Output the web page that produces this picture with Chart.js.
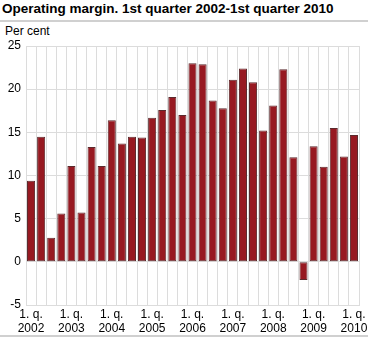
<!DOCTYPE html>
<html>
<head>
<meta charset="utf-8">
<script src="https://cdn.jsdelivr.net/npm/chart.js@4"></script>
<style>
    body { margin: 0; background: #fff; font-family: "Liberation Sans", Arial, sans-serif; }
    #wrap { position: relative; width: 370px; height: 338px; }
    #title { position: absolute; left: 2px; top: 1px; font-size: 13.5px; font-weight: bold; color: #000; white-space: nowrap; }
    #topLine { position: absolute; left: 0; top: 20px; width: 368px; height: 2px; background: #d0d0d0; }
    #unit { position: absolute; left: 5px; top: 24px; font-size: 12px; color: #000; }
    #bottomLine { position: absolute; left: 0; top: 335px; width: 368px; height: 2px; background: #d0d0d0; }
    canvas { position: absolute; left: 0; top: 0; }
</style>
</head>
<body>
<div id="wrap">
    <div id="title">Operating margin. 1st quarter 2002-1st quarter 2010</div>
    <div id="topLine"></div>
    <div id="unit">Per cent</div>
    <canvas id="chart" width="370" height="338"></canvas>
    <div id="bottomLine"></div>
</div>
<script>
// quarters 2002Q1 - 2010Q1
const years = ["2002", "2003", "2004", "2005", "2006", "2007", "2008", "2009", "2010"];
const quarters = [];
years.forEach(y => {
    for (let q = 1; q <= 4; q++) {
        if (y === "2010" && q > 1) break;
        quarters.push(q + ". q. " + y);
    }
});

const margin = [
    9.4, 14.5, 2.8, 5.6,
    11.1, 5.7, 13.3, 11.1,
    16.4, 13.7, 14.5, 14.4,
    16.7, 17.6, 19.1, 17.0,
    23.0, 22.9, 18.7, 17.8,
    21.1, 22.4, 20.8, 15.2,
    18.1, 22.3, 12.1, -2.1,
    13.4, 11.0, 15.5, 12.2,
    14.7
];

const yTicks = [-5, 0, 5, 10, 15, 20, 25];

const font = { family: "'Liberation Sans', Arial, sans-serif", size: 12 };

new Chart(document.getElementById("chart"), {
    type: "bar",
    data: {
        labels: quarters,
        datasets: [{
            data: margin,
            backgroundColor: "#971921",
            borderColor: "#5b2a2d",
            borderWidth: 1,
            borderSkipped: false,
            barPercentage: 0.8,
            categoryPercentage: 1
        }]
    },
    options: {
        responsive: false,
        animation: false,
        layout: { padding: { top: 46, right: 11, left: 0, bottom: 0 } },
        plugins: { legend: { display: false }, tooltip: { enabled: false } },
        scales: {
            x: {
                offset: true,
                grid: { offset: true, color: "#dcdcdc", lineWidth: 1, drawTicks: false },
                border: { color: "#dcdcdc" },
                ticks: {
                    autoSkip: false,
                    maxRotation: 0,
                    padding: 2,
                    color: "#000",
                    font: font,
                    callback: function (v, i) {
                        if (i % 4 !== 0) return "";
                        return ["1. q.", quarters[i].slice(-4)];
                    }
                },
                afterFit: s => { s.height = 33; }
            },
            y: {
                min: -5,
                max: 25,
                afterBuildTicks: s => { s.ticks = yTicks.map(v => ({ value: v })); },
                grid: { color: "#dcdcdc", lineWidth: 1, drawTicks: false },
                border: { display: false },
                ticks: { padding: 5, color: "#000", font: font },
                afterFit: s => { s.width = 26; }
            }
        }
    }
});
</script>
</body>
</html>
